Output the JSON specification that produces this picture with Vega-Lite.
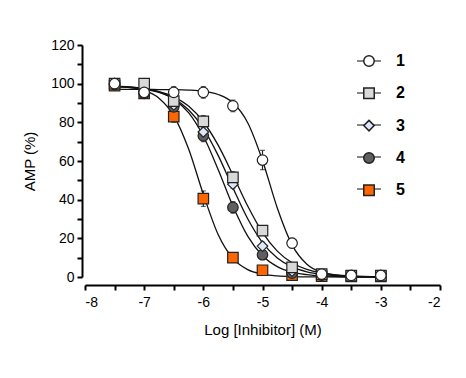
{
  "$schema": "https://vega.github.io/schema/vega-lite/v6.json",
  "width": 355,
  "height": 232,
  "autosize": {"type": "none"},
  "padding": {"left": 85, "top": 45, "right": 26, "bottom": 101},
  "background": "white",
  "config": {
    "view": {"stroke": null},
    "font": "Liberation Sans",
    "axis": {
      "grid": false,
      "domainColor": "#000",
      "domainWidth": 2,
      "tickColor": "#000",
      "tickWidth": 2,
      "tickSize": 5,
      "labelColor": "#000",
      "labelFontSize": 14,
      "labelFont": "Liberation Sans",
      "titleColor": "#000",
      "titleFont": "Liberation Sans",
      "titleFontSize": 15,
      "titleFontWeight": "normal"
    }
  },
  "datasets": {
    "pts": [
      {"s": "5", "x": -7.5, "y": 99, "lo": 98, "hi": 100},
      {"s": "5", "x": -7, "y": 95, "lo": 93.5, "hi": 96.5},
      {"s": "5", "x": -6.5, "y": 83, "lo": 80, "hi": 86},
      {"s": "5", "x": -6, "y": 40.5, "lo": 36.5, "hi": 44.5},
      {"s": "5", "x": -5.5, "y": 10, "lo": 8.5, "hi": 11.5},
      {"s": "5", "x": -5, "y": 3.5, "lo": 2.5, "hi": 4.5},
      {"s": "5", "x": -4.5, "y": 1, "lo": 0.5, "hi": 1.5},
      {"s": "5", "x": -4, "y": 0.5, "lo": 0, "hi": 1},
      {"s": "5", "x": -3.5, "y": 0.3, "lo": 0, "hi": 0.6},
      {"s": "5", "x": -3, "y": 0.3, "lo": 0, "hi": 0.6},
      {"s": "4", "x": -7.5, "y": 99.5, "lo": 98.5, "hi": 100.5},
      {"s": "4", "x": -7, "y": 95, "lo": 93.5, "hi": 96.5},
      {"s": "4", "x": -6.5, "y": 88, "lo": 86, "hi": 90},
      {"s": "4", "x": -6, "y": 73, "lo": 70, "hi": 76},
      {"s": "4", "x": -5.5, "y": 36, "lo": 33, "hi": 39},
      {"s": "4", "x": -5, "y": 11.5, "lo": 9, "hi": 14},
      {"s": "4", "x": -4.5, "y": 2, "lo": 1, "hi": 3},
      {"s": "4", "x": -4, "y": 1, "lo": 0.5, "hi": 1.5},
      {"s": "4", "x": -3.5, "y": 0.5, "lo": 0, "hi": 1},
      {"s": "4", "x": -3, "y": 0.5, "lo": 0, "hi": 1},
      {"s": "3", "x": -7.5, "y": 100, "lo": 99, "hi": 101},
      {"s": "3", "x": -7, "y": 96, "lo": 94.5, "hi": 97.5},
      {"s": "3", "x": -6.5, "y": 89, "lo": 87, "hi": 91},
      {"s": "3", "x": -6, "y": 75, "lo": 72, "hi": 78},
      {"s": "3", "x": -5.5, "y": 48, "lo": 46, "hi": 50},
      {"s": "3", "x": -5, "y": 16, "lo": 14, "hi": 18},
      {"s": "3", "x": -4.5, "y": 3, "lo": 2, "hi": 4},
      {"s": "3", "x": -4, "y": 1, "lo": 0.5, "hi": 1.5},
      {"s": "3", "x": -3.5, "y": 0.6, "lo": 0.2, "hi": 1},
      {"s": "3", "x": -3, "y": 0.6, "lo": 0.2, "hi": 1},
      {"s": "2", "x": -7.5, "y": 100, "lo": 99, "hi": 101},
      {"s": "2", "x": -7, "y": 100, "lo": 98, "hi": 102},
      {"s": "2", "x": -6.5, "y": 91, "lo": 88, "hi": 94},
      {"s": "2", "x": -6, "y": 80.5, "lo": 77.5, "hi": 83.5},
      {"s": "2", "x": -5.5, "y": 51.5, "lo": 48.5, "hi": 54.5},
      {"s": "2", "x": -5, "y": 24, "lo": 21.5, "hi": 26.5},
      {"s": "2", "x": -4.5, "y": 5, "lo": 4, "hi": 6},
      {"s": "2", "x": -4, "y": 1.5, "lo": 1, "hi": 2},
      {"s": "2", "x": -3.5, "y": 0.7, "lo": 0.3, "hi": 1.1},
      {"s": "2", "x": -3, "y": 0.7, "lo": 0.3, "hi": 1.1},
      {"s": "1", "x": -7.5, "y": 100, "lo": 98.5, "hi": 101.5},
      {"s": "1", "x": -7, "y": 95.5, "lo": 94, "hi": 97},
      {"s": "1", "x": -6.5, "y": 95.5, "lo": 92.5, "hi": 98.5},
      {"s": "1", "x": -6, "y": 95.5, "lo": 92.5, "hi": 98.5},
      {"s": "1", "x": -5.5, "y": 88.5, "lo": 85.5, "hi": 91.5},
      {"s": "1", "x": -5, "y": 60.5, "lo": 55.5, "hi": 65.5},
      {"s": "1", "x": -4.5, "y": 17.5, "lo": 15, "hi": 20},
      {"s": "1", "x": -4, "y": 1.5, "lo": 0.5, "hi": 2.5},
      {"s": "1", "x": -3.5, "y": 0.8, "lo": 0.3, "hi": 1.3},
      {"s": "1", "x": -3, "y": 0.8, "lo": 0.3, "hi": 1.3}
    ],
    "curve": [
      {"s": "1", "x": -7.5, "y": 97}, {"s": "1", "x": -7.25, "y": 97}, {"s": "1", "x": -7, "y": 97},
      {"s": "1", "x": -6.75, "y": 96.95}, {"s": "1", "x": -6.5, "y": 96.9}, {"s": "1", "x": -6.25, "y": 96.7},
      {"s": "1", "x": -6, "y": 96.1}, {"s": "1", "x": -5.75, "y": 94.4}, {"s": "1", "x": -5.5, "y": 90.1},
      {"s": "1", "x": -5.25, "y": 79.8}, {"s": "1", "x": -5, "y": 60.3}, {"s": "1", "x": -4.75, "y": 35.7},
      {"s": "1", "x": -4.5, "y": 16.6}, {"s": "1", "x": -4.25, "y": 6.6}, {"s": "1", "x": -4, "y": 2.5},
      {"s": "1", "x": -3.5, "y": 0.3}, {"s": "1", "x": -3, "y": 0.03},
      {"s": "2", "x": -7.5, "y": 98.6}, {"s": "2", "x": -7.25, "y": 98.2}, {"s": "2", "x": -7, "y": 97.4},
      {"s": "2", "x": -6.75, "y": 95.9}, {"s": "2", "x": -6.5, "y": 93.2}, {"s": "2", "x": -6.25, "y": 88.4},
      {"s": "2", "x": -6, "y": 80.3}, {"s": "2", "x": -5.75, "y": 68.2}, {"s": "2", "x": -5.5, "y": 52.8},
      {"s": "2", "x": -5.25, "y": 36.7}, {"s": "2", "x": -5, "y": 23.1}, {"s": "2", "x": -4.75, "y": 13.4},
      {"s": "2", "x": -4.5, "y": 7.4}, {"s": "2", "x": -4.25, "y": 3.96}, {"s": "2", "x": -4, "y": 2.1},
      {"s": "2", "x": -3.5, "y": 0.56}, {"s": "2", "x": -3, "y": 0.15},
      {"s": "3", "x": -7.5, "y": 98.5}, {"s": "3", "x": -7.25, "y": 98.1}, {"s": "3", "x": -7, "y": 97.2},
      {"s": "3", "x": -6.75, "y": 95.5}, {"s": "3", "x": -6.5, "y": 92.3}, {"s": "3", "x": -6.25, "y": 86.5},
      {"s": "3", "x": -6, "y": 76.9}, {"s": "3", "x": -5.75, "y": 62.9}, {"s": "3", "x": -5.5, "y": 46.1},
      {"s": "3", "x": -5.25, "y": 30.1}, {"s": "3", "x": -5, "y": 17.8}, {"s": "3", "x": -4.75, "y": 9.8},
      {"s": "3", "x": -4.5, "y": 5.2}, {"s": "3", "x": -4.25, "y": 2.7}, {"s": "3", "x": -4, "y": 1.35},
      {"s": "3", "x": -3.5, "y": 0.34}, {"s": "3", "x": -3, "y": 0.09},
      {"s": "4", "x": -7.5, "y": 98.7}, {"s": "4", "x": -7.25, "y": 98.3}, {"s": "4", "x": -7, "y": 97.4},
      {"s": "4", "x": -6.75, "y": 95.7}, {"s": "4", "x": -6.5, "y": 92}, {"s": "4", "x": -6.25, "y": 85},
      {"s": "4", "x": -6, "y": 72.9}, {"s": "4", "x": -5.75, "y": 55.6}, {"s": "4", "x": -5.5, "y": 36.7},
      {"s": "4", "x": -5.25, "y": 21.1}, {"s": "4", "x": -5, "y": 11}, {"s": "4", "x": -4.75, "y": 5.4},
      {"s": "4", "x": -4.5, "y": 2.5}, {"s": "4", "x": -4.25, "y": 1.2}, {"s": "4", "x": -4, "y": 0.55},
      {"s": "4", "x": -3.5, "y": 0.1}, {"s": "4", "x": -3, "y": 0.02},
      {"s": "5", "x": -7.5, "y": 98.6}, {"s": "5", "x": -7.25, "y": 98}, {"s": "5", "x": -7, "y": 96.5},
      {"s": "5", "x": -6.75, "y": 92.5}, {"s": "5", "x": -6.5, "y": 83.5}, {"s": "5", "x": -6.25, "y": 66.3},
      {"s": "5", "x": -6, "y": 42.8}, {"s": "5", "x": -5.75, "y": 22}, {"s": "5", "x": -5.5, "y": 9.6},
      {"s": "5", "x": -5.25, "y": 3.8}, {"s": "5", "x": -5, "y": 1.5}, {"s": "5", "x": -4.75, "y": 0.56},
      {"s": "5", "x": -4.5, "y": 0.2}, {"s": "5", "x": -4.25, "y": 0.08}, {"s": "5", "x": -4, "y": 0.03},
      {"s": "5", "x": -3.5, "y": 0}, {"s": "5", "x": -3, "y": 0}
    ]
  },
  "encoding": {
    "x": {
      "field": "x", "type": "quantitative",
      "scale": {"domain": [-8, -2], "nice": false, "zero": false},
      "axis": {
        "title": "Log [Inhibitor] (M)",
        "offset": 8,
        "values": [-8, -7.5, -7, -6.5, -6, -5.5, -5, -4.5, -4, -3.5, -3, -2.5, -2],
        "labelExpr": "datum.value % 1 == 0 ? toString(datum.value) : ''",
        "labelPadding": 5,
        "titlePadding": 13
      }
    },
    "y": {
      "field": "y", "type": "quantitative",
      "scale": {"domain": [0, 120], "nice": false},
      "axis": {
        "title": "AMP (%)",
        "offset": 3,
        "values": [0, 10, 20, 30, 40, 50, 60, 70, 80, 90, 100, 110, 120],
        "labelExpr": "datum.value % 20 == 0 ? datum.label : ''",
        "labelPadding": 3,
        "titlePadding": 13
      }
    }
  },
  "layer": [
    {
      "data": {"name": "curve"},
      "mark": {"type": "line", "strokeWidth": 1.3, "interpolate": "monotone"},
      "encoding": {
        "stroke": {
          "field": "s", "type": "nominal",
          "scale": {"range": ["#111111", "#111111", "#111111", "#111111", "#111111"]},
          "legend": {
            "title": null, "orient": "none", "legendX": 271, "legendY": 3,
            "symbolType": "stroke", "symbolSize": 576, "symbolDash": [7, 10, 7], "symbolStrokeWidth": 1.2,
            "rowPadding": 11, "labelOffset": 14,
            "labelFont": "Liberation Sans", "labelFontSize": 16, "labelFontWeight": "bold", "labelColor": "#000", "labelOpacity": 0
          }
        }
      }
    },
    {
      "data": {"name": "pts"},
      "mark": {"type": "errorbar", "ticks": true, "color": "#222", "thickness": 1.2},
      "encoding": {
        "y": {"field": "lo", "type": "quantitative"},
        "y2": {"field": "hi"}
      }
    },
    {
      "data": {"name": "pts"},
      "mark": {"type": "point", "filled": true, "size": 110, "stroke": "#222", "strokeWidth": 1.2, "opacity": 1},
      "encoding": {
        "shape": {
          "field": "s", "type": "nominal",
          "scale": {"domain": ["1", "2", "3", "4", "5"], "range": ["circle", "square", "diamond", "circle", "square"]},
          "legend": {
            "title": null, "orient": "none", "legendX": 276, "legendY": 8,
            "symbolSize": 110,
            "rowPadding": 14.3, "labelOffset": 19,
            "labelFont": "Liberation Sans", "labelFontSize": 16, "labelFontWeight": "bold", "labelColor": "#000"
          }
        },
        "fill": {
          "field": "s", "type": "nominal",
          "scale": {"domain": ["1", "2", "3", "4", "5"], "range": ["#ffffff", "#d9d9d9", "#dce8f8", "#5f5f5f", "#ff6600"]},
          "legend": {
            "title": null, "orient": "none", "legendX": 276, "legendY": 8,
            "symbolSize": 110,
            "rowPadding": 14.3, "labelOffset": 19,
            "labelFont": "Liberation Sans", "labelFontSize": 16, "labelFontWeight": "bold", "labelColor": "#000"
          }
        }
      }
    }
  ]
}
